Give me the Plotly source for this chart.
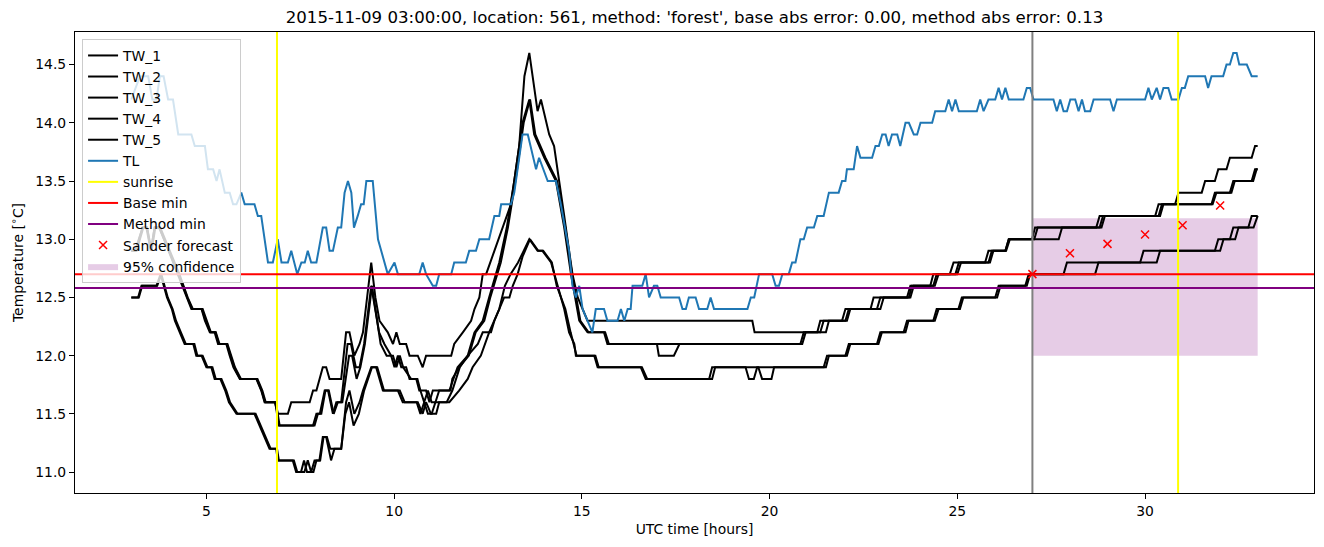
import plotly.graph_objects as go

TITLE = "2015-11-09 03:00:00, location: 561, method: 'forest', base abs error: 0.00, method abs error: 0.13"

TW_1 = [(3.0,12.9),(3.12,12.9),(3.3,13.1),(3.4,13.1),(3.52,12.9),(3.62,13.1),(3.75,13.1),(4.24,12.7),(4.47,12.5),(4.6,12.4),
        (4.87,12.4),(4.96,12.3),(5.09,12.2),(5.22,12.2),(5.31,12.1),(5.53,12.1),(5.62,12.0),(5.72,11.9),(5.89,11.8),(6.33,11.8),
        (6.46,11.7),(6.55,11.6),(6.82,11.6),(6.9,11.5),(7.17,11.5),(7.26,11.6),(7.75,11.6),(7.84,11.7),(7.93,11.7),(8.1,11.9),
        (8.19,11.9),(8.28,11.8),(8.59,11.8),(8.72,12.2),(8.81,12.2),(8.94,12.0),(9.08,12.1),(9.17,12.2),(9.39,12.8),(9.5,12.5),
        (9.61,12.3),(9.83,12.2),(9.97,12.1),(10.06,12.2),(10.15,12.1),(10.32,12.1),(10.41,12.0),(10.63,12.0),(10.76,11.9),(10.85,12.0),
        (11.52,12.0),(11.6,12.1),(11.83,12.2),(12.05,12.3),(12.14,12.4),(12.27,12.5),(12.36,12.7),(12.45,12.7),(12.67,12.9),(12.89,13.1),
        (13.11,13.3),(13.33,13.8),(13.47,14.4),(13.6,14.6),(13.82,14.1),(13.91,14.2),(14.13,13.9),(14.26,13.8),(14.4,13.5),(14.53,13.2),
        (14.66,12.9),(14.75,12.7),(14.89,12.5),(15.02,12.4),(15.15,12.3),(19.54,12.3),(19.6,12.2),(21.27,12.2),(21.35,12.3),(21.93,12.3),
        (22.02,12.4),(22.69,12.4),(22.77,12.5),(23.66,12.5),(23.75,12.6),(24.28,12.6),(24.36,12.7),(24.8,12.7),(24.9,12.8),(25.74,12.8),
        (25.83,12.9),(26.28,12.9),(26.37,13.0),(26.99,13.0),(27.07,13.1),(28.7,13.1),(28.79,13.2),(30.27,13.2),(30.36,13.3),(30.8,13.3),
        (30.89,13.4),(31.51,13.4),(31.6,13.5),(31.86,13.5),(31.95,13.6),(32.17,13.6),(32.26,13.7),(32.84,13.7),(32.93,13.8),(33.0,13.8)]

TW_2 = [(3.0,12.9),(3.14,12.9),(3.32,13.1),(3.42,13.1),(3.54,12.9),(3.64,13.1),(3.77,13.1),(4.28,12.7),(4.5,12.5),(4.64,12.4),
        (4.9,12.4),(5.0,12.3),(5.12,12.2),(5.25,12.2),(5.35,12.1),(5.56,12.1),(5.65,12.0),(5.76,11.9),(5.92,11.8),(6.36,11.8),
        (6.49,11.7),(6.58,11.6),(6.85,11.6),(6.95,11.4),(7.84,11.4),(7.93,11.5),(8.02,11.5),(8.15,11.7),(8.24,11.7),(8.37,11.5),
        (8.46,11.6),(8.59,11.6),(8.76,12.1),(8.85,12.1),(8.98,11.9),(9.08,11.9),(9.2,12.1),(9.39,12.6),(9.6,12.2),(9.74,12.1),
        (9.92,12.0),(10.01,11.9),(10.1,12.0),(10.19,11.9),(10.32,11.9),(10.41,11.8),(10.59,11.8),(10.67,11.7),(10.85,11.7),(10.94,11.6),
        (11.03,11.7),(11.47,11.7),(11.69,11.9),(11.96,12.0),(12.14,12.2),(12.36,12.3),(12.53,12.5),(12.8,12.8),(13.0,13.1),(13.2,13.5),
        (13.42,14.0),(13.6,14.2),(13.73,13.9),(14.0,13.7),(14.31,13.5),(14.53,13.1),(14.71,12.7),(14.93,12.3),(15.15,12.2),(15.59,12.2),
        (15.68,12.1),(20.82,12.1),(20.91,12.2),(21.35,12.2),(21.44,12.3),(22.02,12.3),(22.11,12.4),(22.86,12.4),(22.95,12.5),(23.71,12.5),
        (23.79,12.6),(24.36,12.6),(24.45,12.7),(24.95,12.7),(25.04,12.8),(25.83,12.8),(25.92,12.9),(26.28,12.9),(26.37,13.0),(27.05,13.0),
        (27.14,13.1),(28.79,13.1),(28.88,13.2),(30.36,13.2),(30.45,13.3),(31.77,13.3),(31.86,13.4),(32.26,13.4),(32.35,13.5),(32.84,13.5),
        (32.93,13.6),(33.0,13.6)]

TW_3 = [(3.0,12.9),(3.1,12.9),(3.3,13.1),(3.42,13.1),(3.52,12.9),(3.62,13.1),(3.74,13.1),(4.26,12.7),(4.49,12.5),(4.62,12.4),
        (4.88,12.4),(4.98,12.3),(5.11,12.2),(5.24,12.2),(5.33,12.1),(5.55,12.1),(5.64,12.0),(5.74,11.9),(5.9,11.8),(6.34,11.8),
        (6.47,11.7),(6.56,11.6),(6.84,11.6),(6.92,11.4),(7.88,11.4),(7.97,11.5),(8.06,11.5),(8.17,11.7),(8.26,11.7),(8.39,11.5),
        (8.5,11.6),(8.62,11.6),(8.8,12.0),(8.88,12.0),(9.0,11.8),(9.1,11.9),(9.22,12.1),(9.41,12.6),(9.64,12.1),(9.8,12.0),
        (9.97,12.0),(10.06,11.9),(10.15,12.0),(10.24,11.9),(10.45,11.8),(10.62,11.8),(10.7,11.7),(10.8,11.6),(10.9,11.7),(11.0,11.6),
        (11.1,11.6),(11.2,11.7),(11.5,11.7),(11.55,11.8),(11.73,11.9),(11.99,12.0),(12.17,12.2),(12.4,12.3),(12.56,12.5),(12.84,12.8),
        (13.03,13.1),(13.23,13.5),(13.45,14.0),(13.62,14.2),(13.76,13.9),(14.03,13.7),(14.34,13.5),(14.56,13.1),(14.74,12.7),(14.96,12.3),
        (15.18,12.2),(15.62,12.2),(15.72,12.1),(17.0,12.1),(17.05,12.0),(17.45,12.0),(17.6,12.1),(20.87,12.1),(20.96,12.2),(21.5,12.2),
        (21.58,12.3),(22.06,12.3),(22.15,12.4),(22.95,12.4),(23.04,12.5),(23.75,12.5),(23.84,12.6),(24.4,12.6),(24.5,12.7),(25.0,12.7),
        (25.1,12.8),(25.87,12.8),(25.96,12.9),(26.3,12.9),(26.4,13.0),(27.7,13.0),(27.79,13.1),(28.84,13.1),(28.93,13.2),(30.4,13.2),
        (30.49,13.3),(31.8,13.3),(31.9,13.4),(32.3,13.4),(32.39,13.5),(32.88,13.5),(32.97,13.6),(33.0,13.6)]

TW_4 = [(3.0,12.5),(3.18,12.5),(3.27,12.6),(3.67,12.6),(3.78,12.7),(3.95,12.5),(4.08,12.4),(4.16,12.3),(4.29,12.2),(4.42,12.1),
        (4.65,12.1),(4.73,12.0),(4.87,12.0),(5.0,11.9),(5.13,11.9),(5.22,11.8),(5.37,11.8),(5.5,11.7),(5.6,11.6),(5.8,11.5),
        (6.28,11.5),(6.42,11.4),(6.55,11.3),(6.68,11.2),(6.86,11.2),(6.9,11.1),(7.3,11.1),(7.39,11.0),(7.61,11.0),(7.7,11.1),
        (7.79,11.0),(7.88,11.1),(8.01,11.1),(8.1,11.3),(8.19,11.3),(8.32,11.1),(8.41,11.2),(8.59,11.2),(8.72,11.6),(8.81,11.7),
        (8.94,11.5),(9.08,11.6),(9.17,11.7),(9.39,11.9),(9.52,11.9),(9.7,11.7),(10.1,11.7),(10.23,11.6),(10.63,11.6),(10.76,11.5),
        (10.85,11.6),(10.98,11.5),(11.12,11.5),(11.2,11.6),(11.47,11.6),(11.73,11.7),(11.96,11.8),(12.09,11.9),(12.31,12.0),(12.53,12.2),
        (12.8,12.4),(12.95,12.6),(13.1,12.7),(13.3,12.8),(13.45,12.9),(13.6,13.0),(13.82,12.9),(13.95,12.9),(14.18,12.8),(14.31,12.65),
        (14.53,12.4),(14.66,12.2),(14.8,12.1),(14.84,12.0),(15.33,12.0),(15.42,11.9),(16.57,11.9),(16.7,11.8),(18.39,11.8),(18.47,11.9),
        (19.36,11.9),(19.45,11.8),(19.58,11.8),(19.67,11.9),(21.44,11.9),(21.53,12.0),(22.02,12.0),(22.11,12.1),(22.86,12.1),(22.95,12.2),
        (23.57,12.2),(23.66,12.3),(24.36,12.3),(24.45,12.4),(25.03,12.4),(25.12,12.5),(26.01,12.5),(26.1,12.6),(26.81,12.6),(26.9,12.7),
        (27.83,12.7),(27.92,12.8),(29.87,12.8),(29.96,12.9),(31.86,12.9),(31.95,13.0),(32.26,13.0),(32.35,13.1),(32.75,13.1),(32.84,13.2),
        (33.0,13.2)]

TW_5 = [(3.0,12.5),(3.2,12.5),(3.29,12.6),(3.69,12.6),(3.8,12.7),(3.97,12.5),(4.1,12.4),(4.19,12.3),(4.32,12.2),(4.45,12.1),
        (4.68,12.1),(4.76,12.0),(4.9,12.0),(5.03,11.9),(5.16,11.9),(5.25,11.8),(5.4,11.8),(5.53,11.7),(5.63,11.6),(5.83,11.5),
        (6.31,11.5),(6.45,11.4),(6.58,11.3),(6.71,11.2),(6.88,11.2),(6.93,11.1),(7.33,11.1),(7.42,11.0),(7.52,11.0),(7.6,11.1),
        (7.68,11.0),(7.85,11.0),(7.93,11.1),(8.03,11.1),(8.12,11.3),(8.21,11.3),(8.3,11.2),(8.59,11.2),(8.7,11.5),(8.8,11.6),
        (8.92,11.4),(9.06,11.5),(9.2,11.7),(9.41,11.9),(9.55,11.9),(9.73,11.7),(10.15,11.7),(10.28,11.6),(10.6,11.6),(10.7,11.5),
        (10.8,11.6),(10.9,11.5),(11.0,11.5),(11.1,11.6),(11.4,11.6),(11.55,11.7),(11.75,11.9),(11.96,12.0),(12.23,12.1),(12.36,12.2),
        (12.58,12.2),(12.67,12.3),(12.8,12.4),(12.93,12.5),(13.07,12.5),(13.16,12.6),(13.29,12.7),(13.42,12.85),(13.62,13.0),(13.84,12.9),
        (13.97,12.9),(14.2,12.8),(14.33,12.6),(14.56,12.4),(14.7,12.2),(14.86,12.0),(15.36,12.0),(15.45,11.9),(16.6,11.9),(16.74,11.8),
        (18.47,11.8),(18.55,11.9),(19.7,11.9),(19.8,11.8),(20.05,11.8),(20.12,11.9),(21.5,11.9),(21.58,12.0),(22.06,12.0),(22.15,12.1),
        (22.9,12.1),(22.99,12.2),(23.62,12.2),(23.7,12.3),(24.4,12.3),(24.5,12.4),(25.07,12.4),(25.16,12.5),(26.06,12.5),(26.15,12.6),
        (26.85,12.6),(26.94,12.7),(28.67,12.7),(28.76,12.8),(30.31,12.8),(30.4,12.9),(32.0,12.9),(32.09,13.0),(32.4,13.0),(32.49,13.1),
        (32.89,13.1),(32.98,13.2),(33.0,13.2)]

TL = [(3.0,14.2),(3.23,14.4),(3.45,14.4),(3.56,14.2),(3.67,14.2),(3.76,14.4),(3.86,14.4),(3.98,14.2),(4.11,14.2),(4.25,13.9),
      (4.6,13.9),(4.69,13.8),(4.96,13.8),(5.04,13.6),(5.18,13.6),(5.27,13.5),(5.35,13.6),(5.49,13.4),(5.62,13.4),(5.71,13.3),
      (5.8,13.3),(5.93,13.4),(6.02,13.3),(6.28,13.3),(6.37,13.2),(6.46,13.2),(6.64,12.8),(6.77,12.8),(6.9,13.0),(7.0,12.8),
      (7.17,12.8),(7.26,12.9),(7.42,12.7),(7.53,12.8),(7.62,12.8),(7.7,12.9),(7.79,12.8),(7.93,12.8),(8.1,13.1),(8.19,13.1),
      (8.28,12.9),(8.37,12.9),(8.5,13.1),(8.59,13.1),(8.68,13.4),(8.77,13.5),(8.86,13.4),(8.93,13.1),(9.03,13.2),(9.12,13.3),
      (9.19,13.3),(9.26,13.5),(9.43,13.5),(9.57,13.0),(9.83,12.7),(10.01,12.8),(10.1,12.7),(10.67,12.7),(10.76,12.8),(10.85,12.7),
      (11.03,12.6),(11.12,12.6),(11.2,12.7),(11.52,12.7),(11.6,12.8),(11.91,12.8),(12.0,12.9),(12.18,12.9),(12.27,13.0),(12.53,13.0),
      (12.67,13.2),(12.8,13.2),(12.85,13.3),(13.11,13.3),(13.2,13.4),(13.42,13.9),(13.56,13.9),(13.78,13.6),(13.86,13.7),(14.09,13.5),
      (14.31,13.5),(14.44,13.3),(14.66,12.9),(14.75,12.6),(14.84,12.5),(14.93,12.6),(15.02,12.4),(15.15,12.3),(15.28,12.2),(15.37,12.4),
      (15.59,12.4),(15.68,12.3),(15.95,12.3),(16.04,12.4),(16.13,12.3),(16.22,12.4),(16.3,12.4),(16.35,12.6),(16.61,12.6),(16.7,12.7),
      (16.79,12.5),(16.92,12.6),(17.01,12.6),(17.1,12.5),(17.59,12.5),(17.68,12.4),(17.77,12.4),(17.85,12.5),(18.03,12.5),(18.12,12.4),
      (18.34,12.4),(18.43,12.5),(18.52,12.4),(19.41,12.4),(19.5,12.5),(19.59,12.5),(19.72,12.7),(20.07,12.7),(20.16,12.6),(20.25,12.6),
      (20.34,12.7),(20.51,12.7),(20.6,12.8),(20.69,12.8),(20.82,13.0),(20.91,13.0),(21.0,13.1),(21.18,13.1),(21.27,13.2),(21.44,13.2),
      (21.58,13.4),(21.84,13.4),(21.93,13.5),(22.02,13.5),(22.06,13.6),(22.24,13.6),(22.33,13.8),(22.42,13.7),(22.73,13.7),(22.82,13.8),
      (22.91,13.8),(23.0,13.9),(23.09,13.9),(23.17,13.8),(23.26,13.9),(23.4,13.9),(23.48,13.8),(23.62,14.0),(23.71,14.0),(23.84,13.9),
      (23.93,13.9),(24.02,14.0),(24.33,14.0),(24.41,14.1),(24.68,14.1),(24.77,14.2),(24.86,14.1),(24.95,14.2),(25.04,14.1),(25.52,14.1),
      (25.61,14.2),(25.7,14.1),(25.83,14.2),(26.01,14.2),(26.1,14.3),(26.19,14.2),(26.28,14.3),(26.37,14.2),(26.76,14.2),(26.85,14.3),
      (26.94,14.3),(27.03,14.2),(27.56,14.2),(27.65,14.1),(27.74,14.2),(27.83,14.1),(27.92,14.1),(28.01,14.2),(28.14,14.2),(28.23,14.1),
      (28.32,14.2),(28.4,14.1),(28.54,14.1),(28.63,14.2),(29.07,14.2),(29.16,14.1),(29.25,14.2),(30.0,14.2),(30.09,14.3),(30.18,14.2),
      (30.31,14.3),(30.4,14.2),(30.49,14.3),(30.62,14.3),(30.71,14.2),(30.89,14.2),(30.98,14.3),(31.06,14.3),(31.15,14.4),(31.6,14.4),
      (31.68,14.3),(31.77,14.4),(32.08,14.4),(32.17,14.5),(32.26,14.5),(32.35,14.6),(32.44,14.6),(32.51,14.5),(32.71,14.5),(32.84,14.4),
      (33.0,14.4)]

SUNRISE = [6.88, 30.88]
FORECAST_START = 27.0
BASE_MIN = 12.70
METHOD_MIN = 12.58
SANDER_T = [27, 28, 29, 30, 31, 32]
SANDER_V = [12.70, 12.88, 12.96, 13.04, 13.12, 13.29]
CONF_T = [27.0, 33.0]
CONF_LOW = 12.00
CONF_HIGH = 13.18
X_RANGE = [1.5, 34.5]
Y_RANGE = [10.82, 14.78]
X_TICKS = [5, 10, 15, 20, 25, 30]
Y_TICKS = [11.0, 11.5, 12.0, 12.5, 13.0, 13.5, 14.0, 14.5]

FONT = "DejaVu Sans"
FS = 13.9
W, H = 1316, 539   # page body adds an 8 px margin around the figure

fig = go.Figure()

fig.add_trace(go.Scatter(
    x=[CONF_T[0], CONF_T[1], CONF_T[1], CONF_T[0], CONF_T[0]],
    y=[CONF_LOW, CONF_LOW, CONF_HIGH, CONF_HIGH, CONF_LOW],
    fill="toself", fillcolor="rgba(128,0,128,0.2)", mode="lines",
    line=dict(width=0, color="rgba(128,0,128,0.2)"),
    name="95% confidence", legendrank=11, hoverinfo="skip"))

for i, series in enumerate([TW_1, TW_2, TW_3, TW_4, TW_5]):
    fig.add_trace(go.Scatter(
        x=[p[0] for p in series], y=[p[1] for p in series], mode="lines",
        line=dict(color="black", width=2), name=f"TW_{i+1}", legendrank=i + 1))

fig.add_trace(go.Scatter(
    x=[p[0] for p in TL], y=[p[1] for p in TL], mode="lines",
    line=dict(color="#1f77b4", width=2), name="TL", legendrank=6))

for j, s in enumerate(SUNRISE):
    fig.add_trace(go.Scatter(
        x=[s, s], y=Y_RANGE, mode="lines", line=dict(color="#ffff00", width=2),
        name="sunrise", legendgroup="sunrise", showlegend=(j == 0), legendrank=7))

fig.add_trace(go.Scatter(
    x=[FORECAST_START, FORECAST_START], y=Y_RANGE, mode="lines",
    line=dict(color="gray", width=2), showlegend=False))

fig.add_trace(go.Scatter(
    x=X_RANGE, y=[BASE_MIN, BASE_MIN], mode="lines",
    line=dict(color="red", width=2), name="Base min", legendrank=8))
fig.add_trace(go.Scatter(
    x=X_RANGE, y=[METHOD_MIN, METHOD_MIN], mode="lines",
    line=dict(color="purple", width=2), name="Method min", legendrank=9))

fig.add_trace(go.Scatter(
    x=SANDER_T, y=SANDER_V, mode="markers",
    marker=dict(symbol="x-thin", size=8, color="red", line=dict(width=1.5, color="red")),
    name="Sander forecast", legendrank=10))

axis_common = dict(showline=True, linecolor="black", linewidth=1, mirror=True,
                   ticks="outside", ticklen=5, tickcolor="black", tickwidth=1,
                   showgrid=False, zeroline=False, automargin=False,
                   tickfont=dict(family=FONT, size=FS, color="black"))

fig.update_layout(
    width=W, height=H,
    margin=dict(l=67, r=10, t=24, b=54, autoexpand=False),
    paper_bgcolor="white", plot_bgcolor="white",
    font=dict(family=FONT, size=FS, color="black"),
    title=dict(text=TITLE, x=0.5, xref="paper", xanchor="center",
               y=1 - 9 / H, yanchor="middle", automargin=False,
               font=dict(family=FONT, size=16.6, color="black")),
    xaxis=dict(range=X_RANGE, tickvals=X_TICKS,
               title=dict(text="UTC time [hours]", font=dict(family=FONT, size=FS), standoff=6),
               **axis_common),
    yaxis=dict(range=Y_RANGE, tickvals=Y_TICKS, tickformat=".1f",
               title=dict(text="Temperature [<sup>∘</sup>C]", font=dict(family=FONT, size=FS), standoff=16),
               **axis_common),
    legend=dict(x=0.0057, y=0.985, xanchor="left", yanchor="top",
                bgcolor="rgba(255,255,255,0.8)", bordercolor="#cccccc", borderwidth=1,
                font=dict(family=FONT, size=FS, color="black"),
                traceorder="normal", itemwidth=30),
    showlegend=True,
)

fig.write_html("out.html")
